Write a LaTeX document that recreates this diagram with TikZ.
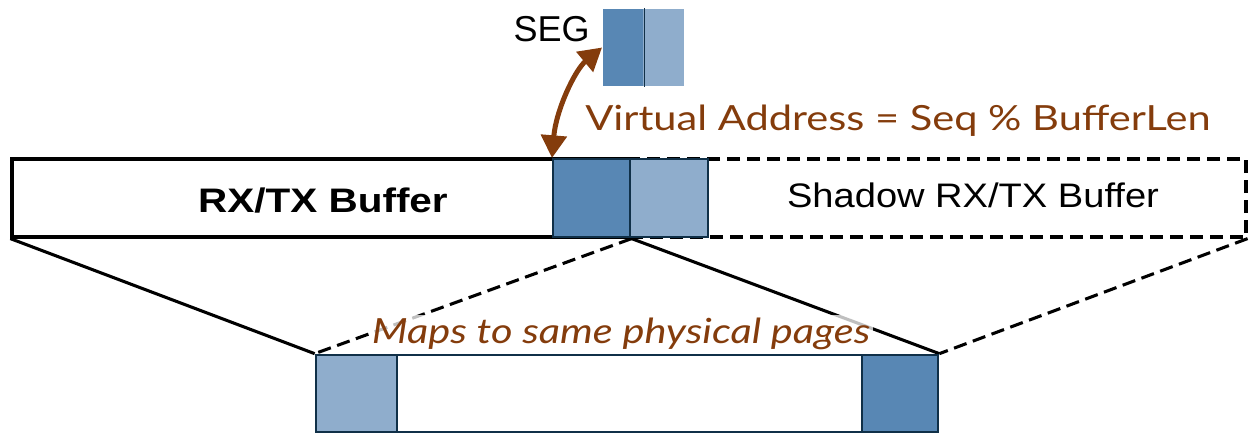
\documentclass[tikz,border=0pt]{standalone}
\usepackage{fontspec}
\setmainfont{Liberation Sans}
\newfontfamily\buffont[FakeStretch=1.12,BoldFeatures={FakeStretch=1.19}]{Liberation Sans}
\newfontfamily\notefont[FakeStretch=1.2]{Lato}
\usepackage{tikz}
\usetikzlibrary{arrows.meta}

\definecolor{segdark}{RGB}{88,135,180}
\definecolor{seglight}{RGB}{143,173,204}
\definecolor{segline}{RGB}{16,48,72}
\definecolor{notebrown}{RGB}{132,60,12}

\tikzset{
  blk/.style={draw=segline, line width=1.5pt, inner sep=0pt, minimum height=57.75pt},
  darkblk/.style={blk, fill=segdark},
  lightblk/.style={blk, fill=seglight},
  bufbox/.style={draw=black, line width=2.4pt, inner sep=0pt, minimum height=58.5pt},
  mapline/.style={line width=2.3pt},
  dashline/.style={dash pattern=on 10pt off 5pt},
  note/.style={text=notebrown, font=\notefont\fontsize{26}{31}\selectfont, inner sep=0pt}
}

\begin{document}
\begin{tikzpicture}[x=0.75pt,y=0.75pt,yscale=-1,xscale=1]
\useasboundingbox (0,0) rectangle (1250,435);

%Shape: physical pages
\node (phys) [bufbox, draw=segline, line width=2pt, fill=white, minimum width=466.5pt, minimum height=57.75pt] at (627,393.5) {};

%Shape: buffer boxes
\node (rxtx) [bufbox, fill=white, minimum width=463.5pt] at (321,198) {};
\node (shadow) [bufbox, dashline, minimum width=462pt] at (938,198) {};

% Lines from buffers to pages
\draw [mapline] (rxtx.south west) -- (phys.north west);
\draw [mapline, dashline] (rxtx.south east) -- (phys.north west);
\draw [mapline] (rxtx.south east) -- (phys.north east);
\draw [mapline, dashline] (shadow.south east) -- (phys.north east);

%Shape: segments in the buffer
\node (bufdark) [darkblk, minimum width=57.75pt, minimum height=58.5pt] at (591.5,198) {};
\node (buflight) [lightblk, minimum width=58.5pt, minimum height=58.5pt] at (669,198) {};

%Shape: segments in the pages
\node (physlight) [lightblk, minimum width=60.75pt] at (356.5,393.5) {};
\node (physdark) [darkblk, minimum width=57pt] at (900,393.5) {};

%Shape: SEG
\node (segdark) [darkblk, draw=none, minimum width=30pt] at (623,47.5) {};
\node (seglight) [lightblk, draw=none, minimum width=30.75pt] at (663.5,47.5) {};
\draw [segline, line width=0.6pt] (segdark.north east) -- (segdark.south east);

% Text Node
\node (segtxt) [anchor=base east, inner sep=0pt, font=\fontsize{27}{32}\selectfont] at (590,42) {SEG};
% Text Node
\node (rxtxtxt) [anchor=base, inner sep=0pt, font=\buffont\bfseries\fontsize{25.5}{30}\selectfont] at (323,212) {RX/TX Buffer};
% Text Node
\node (shadowtxt) [anchor=base, inner sep=0pt, font=\buffont\fontsize{25.5}{30}\selectfont] at (973,207) {Shadow RX/TX Buffer};
% Text Node
\node (vaddr) [note, anchor=base west] at (585,131) {Virtual Address = Seq \% BufferLen};
% Text Node
\node (mapstxt) [note, anchor=base, font=\notefont\itshape\fontsize{26}{31}\selectfont, fill=white, fill opacity=0.75, text opacity=1, inner sep=2pt] at (621,343) {Maps to same physical pages};

% Arrow
\draw [notebrown, line width=3.75pt, {Triangle[length=17pt,width=19pt]}-{Triangle[length=17pt,width=19pt]}] (bufdark.north west) .. controls (556,110) and (575,70) .. (segdark.west);
\end{tikzpicture}
\end{document}
